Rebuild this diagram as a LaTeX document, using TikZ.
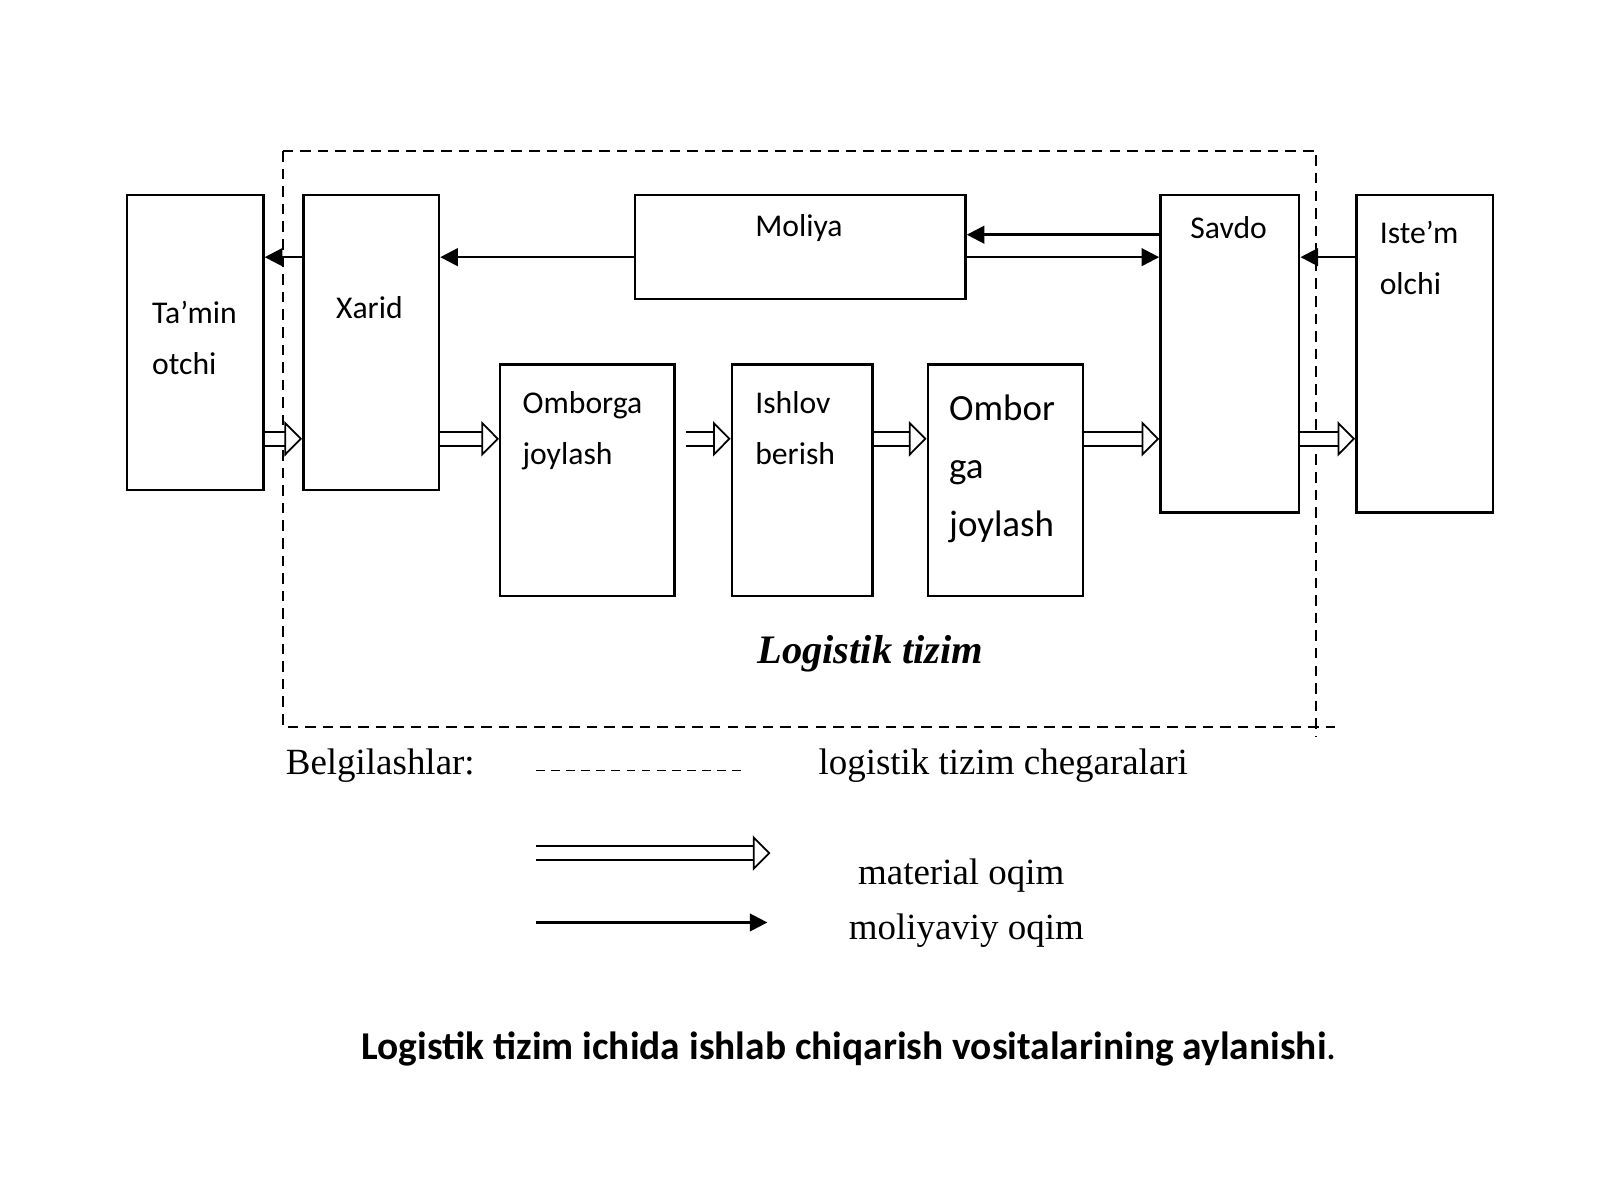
\documentclass[tikz,border=0pt]{standalone}
\usepackage{fontspec}
\setmainfont{Liberation Serif}
\newfontfamily\carl{Carlito}
\usetikzlibrary{arrows.meta}
\tikzset{
  blok/.style={draw, line width=0.7pt, anchor=north west, align=left,
    inner sep=0pt, text depth=0pt},
  yoz/.style={anchor=north west, align=left, font=\carl\fontsize{9}{14.5}\selectfont},
  pul/.style={line width=0.7pt, -{Triangle[length=5pt, width=5pt]}},
  mat/.style={double, double distance=3.5pt, line width=0.5pt,
    -{Triangle[open, length=5pt, width=10pt]}},
  chiz/.style={dash pattern=on 3pt off 2pt, line width=0.6pt}
}
\begin{document}
\begin{tikzpicture}[x=0.0102cm, y=-0.0102cm]
\useasboundingbox (0,0) rectangle (1568,1176);

% chegaralar
\draw[chiz] (277,148) -- (1290,148) -- (1290,722);
\draw[chiz] (277,148) -- (277,712) -- (1308,712);

% bloklar
\node[blok, minimum width=134*0.0102cm, minimum height=289*0.0102cm] (taminot) at (123,190) {};
\node[yoz] at (137,283) {Ta’min\\otchi};
\node[blok, minimum width=133*0.0102cm, minimum height=289*0.0102cm] (xarid) at (296,190) {};
\node[font=\carl\fontsize{9}{11}\selectfont] at (362,301) {Xarid};
\node[blok, minimum width=324*0.0102cm, minimum height=102*0.0102cm] (moliya) at (621,190) {};
\node[font=\carl\fontsize{9}{11}\selectfont] at (783,223) {Moliya};
\node[blok, minimum width=171*0.0102cm, minimum height=227*0.0102cm] (omb1) at (489,356) {};
\node[yoz] at (500,371) {Omborga\\joylash};
\node[blok, minimum width=138*0.0102cm, minimum height=227*0.0102cm] (ishlov) at (716,356) {};
\node[yoz] at (728,371) {Ishlov\\berish};
\node[blok, minimum width=152*0.0102cm, minimum height=227*0.0102cm] (omb2) at (908,356) {};
\node[anchor=north west, align=left, font=\carl\fontsize{10.5}{16.5}\selectfont] at (918,375) {Ombor\\ga\\joylash};
\node[blok, minimum width=136*0.0102cm, minimum height=311*0.0102cm] (savdo) at (1136,190) {};
\node[font=\carl\fontsize{9}{11}\selectfont] at (1204,223) {Savdo};
\node[blok, minimum width=134*0.0102cm, minimum height=311*0.0102cm] (istemol) at (1328,190) {};
\node[yoz] at (1340,205) {Iste’m\\olchi};

% moliyaviy oqim
\draw[pul] (moliya.west |- 0,252) -- (xarid.east |- 0,252);
\draw[pul] (xarid.west |- 0,252) -- (taminot.east |- 0,252);
\draw[pul] (savdo.west |- 0,230) -- (moliya.east |- 0,230);
\draw[pul] (moliya.east |- 0,252) -- (savdo.west |- 0,252);
\draw[pul] (istemol.west |- 0,252) -- (savdo.east |- 0,252);

% material oqim
\draw[mat] (taminot.east |- 0,430) -- (xarid.west |- 0,430);
\draw[mat] (xarid.east |- 0,430) -- (omb1.west |- 0,430);
\draw[mat] ([xshift=10*0.0102cm]omb1.east |- 0,430) -- (ishlov.west |- 0,430);
\draw[mat] (ishlov.east |- 0,430) -- (omb2.west |- 0,430);
\draw[mat] (omb2.east |- 0,430) -- (savdo.west |- 0,430);
\draw[mat] (savdo.east |- 0,430) -- (istemol.west |- 0,430);

\node[font=\bfseries\itshape\fontsize{11.5}{14}\selectfont] (tizim) at (853,641) {Logistik tizim};

% belgilashlar
\node[anchor=west, font=\fontsize{10.5}{13}\selectfont] (belg) at (268,750) {Belgilashlar:};
\coordinate (c1) at (525,755);
\coordinate (c2) at (730,755);
\draw[dash pattern=on 2.5pt off 1.8pt, line width=0.4pt] (c1) -- (c2);
\node[anchor=west, font=\fontsize{10.5}{13}\selectfont] (chega) at (790,750) {logistik tizim chegaralari};
\coordinate (m1) at (525,836);
\coordinate (m2) at (755,836);
\draw[mat] (m1) -- (m2);
\node[font=\fontsize{10.5}{13}\selectfont] (matq) at (942,858) {material oqim};
\coordinate (p1) at (525,904);
\coordinate (p2) at (752,904);
\draw[pul] (p1) -- (p2);
\node[font=\fontsize{10.5}{13}\selectfont] (molq) at (947,912) {moliyaviy oqim};

\node[font=\carl\fontsize{11.2}{13}\selectfont] (sarlavha) at (832,1028) {\textbf{Logistik tizim ichida ishlab chiqarish vositalarining aylanishi}.};
\end{tikzpicture}
\end{document}
